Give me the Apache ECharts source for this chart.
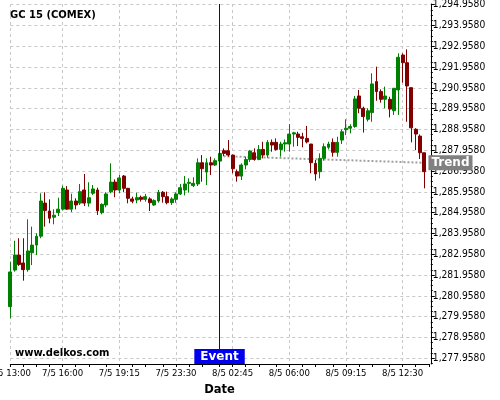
<!DOCTYPE html>
<html>
<head>
<meta charset="utf-8">
<script src="https://cdn.jsdelivr.net/npm/echarts@6/dist/echarts.min.js"></script>
<style>
  html, body { margin: 0; padding: 0; background: #fff; }
  #chart { width: 500px; height: 400px; }
</style>
</head>
<body>
<div id="chart"></div>
<script>
// 15 minute bars, 7/5 13:00 -> 8/5 14:00 (no bars 22:00-22:45)
const categories = [
  '7/5 13:00','7/5 13:15','7/5 13:30','7/5 13:45','7/5 14:00','7/5 14:15','7/5 14:30','7/5 14:45',
  '7/5 15:00','7/5 15:15','7/5 15:30','7/5 15:45','7/5 16:00','7/5 16:15','7/5 16:30','7/5 16:45',
  '7/5 17:00','7/5 17:15','7/5 17:30','7/5 17:45','7/5 18:00','7/5 18:15','7/5 18:30','7/5 18:45',
  '7/5 19:00','7/5 19:15','7/5 19:30','7/5 19:45','7/5 20:00','7/5 20:15','7/5 20:30','7/5 20:45',
  '7/5 21:00','7/5 21:15','7/5 21:30','7/5 21:45','7/5 23:00','7/5 23:15','7/5 23:30','7/5 23:45',
  '8/5 00:00','8/5 00:15','8/5 00:30','8/5 00:45','8/5 01:00','8/5 01:15','8/5 01:30','8/5 01:45',
  '8/5 02:00','8/5 02:15','8/5 02:30','8/5 02:45','8/5 03:00','8/5 03:15','8/5 03:30','8/5 03:45',
  '8/5 04:00','8/5 04:15','8/5 04:30','8/5 04:45','8/5 05:00','8/5 05:15','8/5 05:30','8/5 05:45',
  '8/5 06:00','8/5 06:15','8/5 06:30','8/5 06:45','8/5 07:00','8/5 07:15','8/5 07:30','8/5 07:45',
  '8/5 08:00','8/5 08:15','8/5 08:30','8/5 08:45','8/5 09:00','8/5 09:15','8/5 09:30','8/5 09:45',
  '8/5 10:00','8/5 10:15','8/5 10:30','8/5 10:45','8/5 11:00','8/5 11:15','8/5 11:30','8/5 11:45',
  '8/5 12:00','8/5 12:15','8/5 12:30','8/5 12:45','8/5 13:00','8/5 13:15','8/5 13:30','8/5 13:45',
  '8/5 14:00'
]

const openVals = [
  1280.44,1282.20,1282.92,1282.54,1282.22,1283.03,1283.40,1283.83,1285.42,1285.04,
  1284.74,1284.96,1285.13,1286.05,1285.13,1285.52,1285.42,1286.05,1285.42,1285.89,
  1286.05,1284.96,1285.33,1285.96,1286.43,1286.05,1286.72,1286.13,1285.62,1285.57,
  1285.70,1285.60,1285.62,1285.33,1285.52,1285.94,1285.73,1285.44,1285.60,1285.86,
  1286.05,1286.37,1286.26,1286.34,1287.36,1286.91,1287.36,1287.25,1287.44,1287.94,
  1287.94,1287.73,1286.93,1286.72,1287.25,1287.52,1287.84,1287.52,1288.00,1287.73,
  1288.34,1288.34,1288.00,1288.26,1288.26,1288.74,1288.74,1288.61,1288.53,1288.26,
  1287.33,1286.93,1287.57,1288.10,1288.34,1287.86,1288.45,1288.95,1289.02,1289.10,
  1290.57,1289.98,1289.45,1289.77,1291.26,1290.78,1290.41,1290.41,1289.86,1290.86,
  1292.54,1292.17,1290.97,1288.97,1288.64,1287.84
]
const closeVals = [
  1282.11,1282.92,1282.47,1282.22,1283.12,1283.40,1283.83,1285.52,1285.06,1284.69,
  1284.84,1285.13,1286.13,1285.13,1285.52,1285.33,1285.97,1285.42,1285.68,1286.10,
  1285.05,1285.36,1285.86,1286.43,1286.05,1286.63,1286.13,1285.65,1285.51,1285.68,
  1285.60,1285.73,1285.44,1285.54,1285.94,1285.73,1285.44,1285.62,1285.86,1286.16,
  1286.34,1286.42,1286.37,1287.36,1287.07,1287.36,1287.25,1287.46,1287.81,1287.81,
  1287.73,1287.07,1286.72,1287.25,1287.52,1287.92,1287.52,1288.00,1287.73,1288.34,
  1288.21,1288.00,1288.26,1288.32,1288.74,1288.80,1288.58,1288.53,1288.36,1287.36,
  1286.82,1287.57,1288.13,1288.26,1287.86,1288.34,1288.85,1289.02,1289.10,1290.43,
  1289.98,1289.58,1289.86,1291.15,1290.78,1290.41,1290.57,1289.94,1290.94,1292.43,
  1292.17,1291.05,1289.04,1288.74,1287.84,1286.93
]
const lowVals = [
  1279.88,1282.12,1282.40,1281.69,1282.12,1282.44,1282.92,1283.73,1284.29,1284.45,
  1284.40,1284.80,1285.07,1285.10,1284.99,1285.12,1285.33,1285.28,1285.25,1285.81,
  1284.85,1284.88,1285.22,1285.89,1285.70,1285.89,1285.94,1285.41,1285.41,1285.41,
  1285.49,1285.49,1285.04,1285.28,1285.44,1285.44,1285.36,1285.33,1285.44,1285.81,
  1285.79,1285.92,1286.19,1286.24,1286.45,1286.29,1286.77,1287.20,1287.40,1287.68,
  1287.65,1286.85,1286.45,1286.53,1287.04,1287.40,1287.46,1287.48,1287.57,1287.60,
  1287.89,1287.94,1287.65,1287.89,1287.89,1288.13,1288.16,1288.10,1288.29,1286.85,
  1286.50,1286.61,1287.46,1288.00,1287.65,1287.65,1288.26,1288.69,1288.77,1289.04,
  1289.74,1288.81,1289.34,1289.33,1290.34,1290.25,1289.98,1289.54,1289.66,1289.66,
  1291.21,1289.33,1288.34,1287.97,1287.54,1286.13
]
const highVals = [
  1282.60,1283.61,1283.73,1283.73,1284.64,1284.29,1283.97,1285.89,1285.94,1285.60,
  1285.12,1285.68,1286.26,1286.24,1285.87,1285.65,1286.34,1286.82,1286.42,1286.29,
  1286.16,1285.41,1285.94,1287.33,1286.56,1286.77,1286.77,1286.15,1285.73,1285.92,
  1285.78,1285.86,1285.70,1285.60,1286.05,1286.00,1285.97,1285.70,1285.94,1286.34,
  1286.72,1286.61,1286.66,1287.57,1287.73,1287.57,1287.65,1287.57,1287.90,1288.05,
  1288.45,1287.75,1287.04,1287.33,1287.65,1287.97,1288.05,1288.21,1288.37,1288.45,
  1288.48,1288.53,1288.37,1288.48,1289.22,1288.85,1288.85,1288.80,1289.13,1288.26,
  1287.49,1287.81,1288.29,1288.37,1288.53,1288.61,1288.96,1289.45,1289.21,1290.57,
  1290.86,1290.06,1289.98,1291.66,1291.98,1290.89,1291.02,1290.53,1290.94,1292.62,
  1292.62,1292.81,1290.97,1289.02,1288.72,1287.84
]

// trend line end points (bar index / price)
const trendIdx = [48, 95]
const trendVal = [1287.68, 1287.36]

const eventIdx = 48

// axis ticks
const yTickVals = [
  1277.958,1278.958,1279.958,1280.958,1281.958,1282.958,1283.958,1284.958,1285.958,
  1286.958,1287.958,1288.958,1289.958,1290.958,1291.958,1292.958,1293.958,1294.958
]
const xLabelIdx = [0, 12, 25, 38, 51, 64, 77, 90]
const xTickIdx = [0,3,6,9,12,15,18,22,25,28,31,35,38,41,44,48,51,54,57,61,64,67,70,74,77,80,83,87,90,93,96]

const yMin = 1277.684
const yMax = 1294.992

const candleData = openVals.map((o, i) => [o, closeVals[i], lowVals[i], highVals[i]])
const trendData = categories.map(() => '-')
trendIdx.forEach((idx, k) => { trendData[idx] = trendVal[k] })

// minor ticks: 3 between each labelled tick
const yMinorVals = []
yTickVals.forEach(v => {
  for (let k = 1; k < 4; k++) yMinorVals.push(v + k * 0.25)
})
yMinorVals.unshift(yTickVals[0] - 0.25)

function fmtPrice(v) {
  const s = Number(v).toFixed(4).split('.')
  return s[0].replace(/\B(?=(\d{3})+(?!\d))/g, ',') + '.' + s[1]
}

const axisFont = "'DejaVu Sans Condensed', 'DejaVu Sans', sans-serif"
const boldFont = "'DejaVu Sans', sans-serif"
const gridLine = { color: '#c8c8c8', type: [3, 3], width: 1 }

const chart = echarts.init(document.getElementById('chart'))
chart.setOption({
  animation: false,
  backgroundColor: '#fff',
  title: [
    {
      text: 'GC 15 (COMEX)', left: 10, top: 10, padding: 0,
      textStyle: { fontSize: 10, fontWeight: 'bold', color: '#000', fontFamily: boldFont }
    },
    {
      text: 'www.delkos.com', left: 15, top: 348, padding: 0,
      textStyle: { fontSize: 10, fontWeight: 'bold', color: '#000', fontFamily: boldFont }
    }
  ],
  grid: { left: 10.3, right: 71.2, top: 4, bottom: 36, containLabel: false, outerBoundsMode: 'none' },
  xAxis: {
    type: 'category',
    data: categories,
    boundaryGap: false,
    axisLine: { lineStyle: { color: '#000', width: 1 } },
    axisTick: {
      interval: (i) => xTickIdx.includes(i),
      length: 3,
      lineStyle: { color: '#000' }
    },
    axisLabel: {
      interval: (i) => xLabelIdx.includes(i),
      fontSize: 9.5, color: '#000', margin: 5, fontFamily: axisFont
    },
    splitLine: {
      show: true,
      interval: (i) => xLabelIdx.includes(i),
      lineStyle: gridLine
    },
    name: 'Date',
    nameLocation: 'middle',
    nameGap: 17,
    nameTextStyle: { fontSize: 11.5, fontWeight: 'bold', color: '#000', fontFamily: boldFont }
  },
  yAxis: [
    {
      type: 'value',
      position: 'right',
      offset: 2,
      min: yMin,
      max: yMax,
      axisLine: { show: true, lineStyle: { color: '#000', width: 1 } },
      axisTick: { show: true, customValues: yTickVals, length: 4, lineStyle: { color: '#000' } },
      axisLabel: { customValues: yTickVals, formatter: fmtPrice, fontSize: 10.2, color: '#000', margin: 2, fontFamily: axisFont },
      splitLine: { show: true, lineStyle: gridLine }
    },
    {
      type: 'value',
      position: 'right',
      offset: 2,
      min: yMin,
      max: yMax,
      axisLine: { show: false },
      axisLabel: { show: false },
      splitLine: { show: false },
      axisTick: { show: true, customValues: yMinorVals, length: 2, lineStyle: { color: '#000' } }
    }
  ],
  series: [
    {
      name: 'Trend',
      type: 'line',
      data: trendData,
      connectNulls: true,
      symbol: 'none',
      z: 1,
      lineStyle: { color: '#a0a0a0', width: 2, type: [2, 2] },
      endLabel: {
        show: true,
        formatter: 'Trend',
        distance: 4,
        backgroundColor: '#808080',
        color: '#fff',
        fontWeight: 'bold',
        fontSize: 12,
        fontFamily: boldFont,
        padding: [2, 3, 1, 3]
      }
    },
    {
      name: 'GC 15',
      type: 'candlestick',
      data: candleData,
      barWidth: 3.4,
      clip: false,
      z: 2,
      itemStyle: {
        color: '#008000', color0: '#800000',
        borderColor: '#008000', borderColor0: '#800000',
        borderWidth: 1
      },
      markLine: {
        silent: true,
        symbol: ['none', 'none'],
        label: { show: false },
        lineStyle: { color: '#0000cc', width: 1, type: 'solid' },
        data: [{ xAxis: categories[eventIdx] }]
      },
      markPoint: {
        silent: true,
        symbolSize: 0,
        label: {
          show: true,
          position: 'top',
          distance: 0,
          formatter: 'Event',
          backgroundColor: '#0000ee',
          color: '#fff',
          fontWeight: 'bold',
          fontSize: 12,
          fontFamily: boldFont,
          padding: [2, 6, 1, 6]
        },
        data: [{ coord: [categories[eventIdx], yMin] }]
      }
    }
  ]
})
</script>
</body>
</html>
